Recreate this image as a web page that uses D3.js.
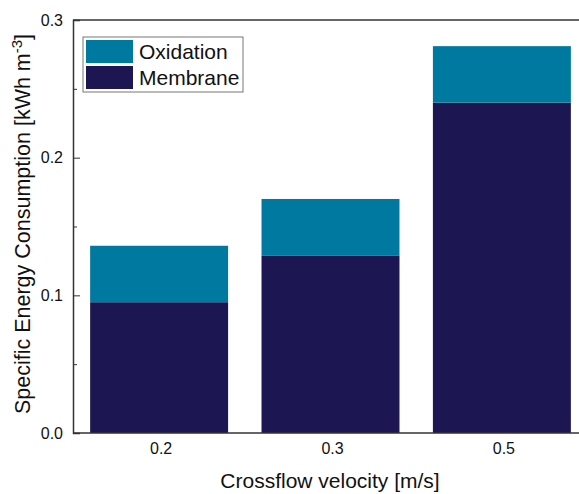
<!DOCTYPE html>
<html>
<head>
<meta charset="utf-8">
<title>energy</title>
<style>
  body { margin: 0; background: #fff; }
  svg { display: block; font-family: "Liberation Sans", Arial, sans-serif; }
  .axis path, .axis line { stroke: #333; }
</style>
</head>
<body>
<svg width="579" height="494"></svg>
<script src="https://cdnjs.cloudflare.com/ajax/libs/d3/7.8.5/d3.min.js"></script>
<script>
// values
var velocities = ["0.2", "0.3", "0.5"];
var membrane = [0.095, 0.129, 0.240];
var oxidation = [0.041, 0.041, 0.041];
var seriesNames = ["Oxidation", "Membrane"];
var yTicks = [0.0, 0.1, 0.2, 0.3];
var yMinor = [0.05, 0.15, 0.25];

var colors = { Membrane: "#1c1652", Oxidation: "#0079a0" };

var svg = d3.select("svg");
var mLeft = 73, mTop = 20, mBottom = 433, mRight = 588;

var rows = velocities.map(function(v, i) {
  return { v: v, Membrane: membrane[i], Oxidation: oxidation[i] };
});
var stack = d3.stack().keys(["Membrane", "Oxidation"])(rows);

var x = d3.scaleBand().domain(velocities)
    .range([mLeft, mRight]).paddingInner(0.195).paddingOuter(0.1);
var y = d3.scaleLinear().domain([0, 0.3]).range([mBottom, mTop]);

// bars
svg.append("g").selectAll("g")
  .data(stack)
  .enter().append("g")
    .attr("fill", function(d) { return colors[d.key]; })
  .selectAll("rect")
  .data(function(d) { return d; })
  .enter().append("rect")
    .attr("x", function(d) { return x(d.data.v); })
    .attr("width", x.bandwidth())
    .attr("y", function(d) { return y(d[1]); })
    .attr("height", function(d) { return y(d[0]) - y(d[1]); });

// frame top
svg.append("line")
  .attr("x1", mLeft).attr("x2", mRight)
  .attr("y1", mTop).attr("y2", mTop)
  .attr("stroke", "#333").attr("stroke-width", 1.5);

// y axis, ticks pointing inward
var yAxis = svg.append("g").attr("class", "axis")
  .attr("transform", "translate(" + mLeft + ",0)")
  .call(d3.axisRight(y).tickValues(yTicks).tickSize(7).tickFormat(d3.format(".1f")));
yAxis.attr("font-size", 16).attr("font-family", null);
yAxis.select(".domain").attr("stroke-width", 1.5);
yAxis.selectAll("text").attr("x", -10).attr("text-anchor", "end").attr("fill", "#111");

svg.append("g").attr("class", "axis")
  .attr("transform", "translate(" + mLeft + ",0)")
  .call(d3.axisRight(y).tickValues(yMinor).tickSize(4).tickFormat(""))
  .select(".domain").remove();

// x axis
var xAxis = svg.append("g").attr("class", "axis")
  .attr("transform", "translate(0," + mBottom + ")")
  .call(d3.axisBottom(x).tickSize(0).tickPadding(10));
xAxis.attr("font-size", 16).attr("font-family", null);
xAxis.select(".domain").attr("stroke-width", 1.5)
  .attr("d", "M" + mLeft + ",0H" + mRight);
xAxis.selectAll("text").attr("fill", "#111").attr("dx", 2);

// axis titles
svg.append("text")
  .attr("x", 330).attr("y", 488)
  .attr("text-anchor", "middle").attr("font-size", 21).attr("fill", "#111")
  .text("Crossflow velocity [m/s]");

var yt = svg.append("text")
  .attr("transform", "translate(30,224) rotate(-90)")
  .attr("text-anchor", "middle").attr("font-size", 21.5).attr("fill", "#111");
yt.append("tspan").text("Specific Energy Consumption [kWh m");
yt.append("tspan").attr("dy", -8).attr("font-size", 15).text("-3");
yt.append("tspan").attr("dy", 8).text("]");

// legend
var lg = svg.append("g").attr("transform", "translate(83,37)");
lg.append("rect").attr("width", 160).attr("height", 55)
  .attr("fill", "#fff").attr("stroke", "#777").attr("stroke-width", 1);
seriesNames.forEach(function(name, i) {
  lg.append("rect").attr("x", 3).attr("y", 3 + i * 26)
    .attr("width", 47).attr("height", 23).attr("fill", colors[name]);
  lg.append("text").attr("x", 56).attr("y", 22 + i * 26)
    .attr("font-size", 21).attr("fill", "#111").text(name);
});
</script>
</body>
</html>
